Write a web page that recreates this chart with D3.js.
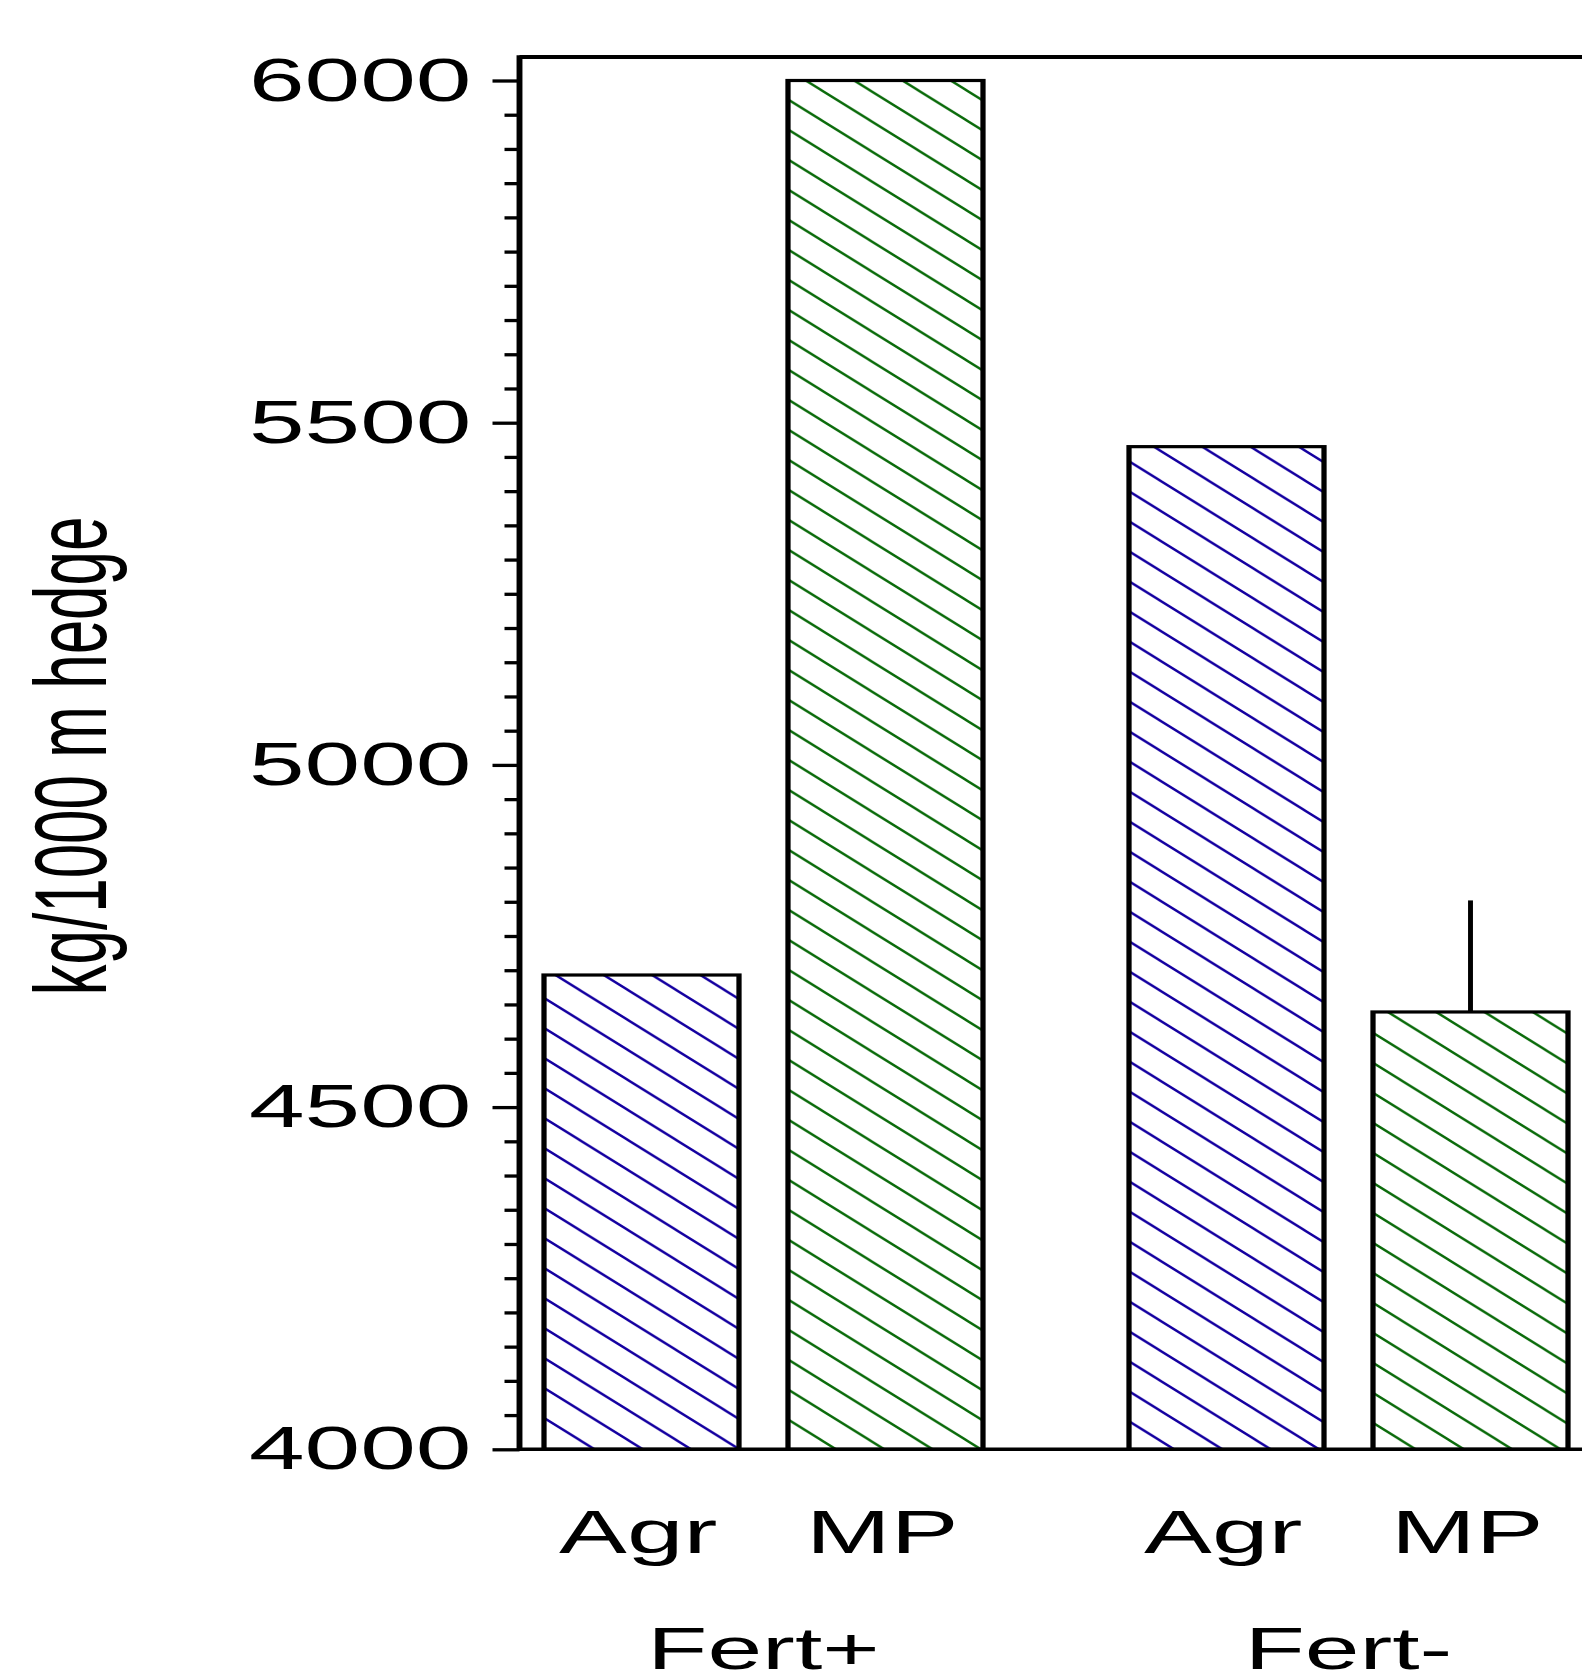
<!DOCTYPE html>
<html>
<head>
<meta charset="utf-8">
<script src="https://cdn.jsdelivr.net/npm/d3@7"></script>
<style>
  html, body { margin: 0; padding: 0; background: #fff; }
  svg { display: block; }
</style>
</head>
<body>
<svg id="chart"></svg>
<script>
// data
const groups = ["Fert+", "Fert-"];
const treatments = ["Agr", "MP"];
const agrValues = [4693, 5465];
const mpValues = [6000, 4639];
const mpErrors = [null, 163];
const yLabel = "kg/1000 m hedge";

const W = 1582, H = 1671;
// the original picture is stretched sideways, so draw in a squeezed space and scale x
const SX = 1.64;

const axisX = 519.5;
const frameTop = 57;
const font = '"Liberation Sans", Arial, sans-serif';

const svg = d3.select('#chart').attr('width', W).attr('height', H);
const g = svg.append('g').attr('transform', `scale(${SX},1)`);

const defs = svg.append('defs');
function hatch(id, color) {
  const w = 48.3 / SX, h = 30;
  defs.append('pattern')
    .attr('id', id)
    .attr('patternUnits', 'userSpaceOnUse')
    .attr('width', w)
    .attr('height', h)
    .append('path')
    .attr('d', `M${-w},${-h}L${2 * w},${2 * h}M${-w},0L${w},${2 * h}M0,${-h}L${2 * w},${h}`)
    .attr('stroke', color)
    .attr('stroke-width', 2)
    .attr('fill', 'none');
}
hatch('hatch-Agr', '#1400a0');
hatch('hatch-MP', '#0b6b0b');

const y = d3.scaleLinear().domain([4000, 6000]).range([1449.3, 80.5]);
const x0 = d3.scaleBand().domain(groups).range([544 / SX, 1568 / SX]).paddingInner(0.2496);
const x1 = d3.scaleBand().domain(treatments).range([0, x0.bandwidth()]).paddingInner(0.2008);

const rows = [];
groups.forEach((grp, i) => {
  rows.push({ grp, t: 'Agr', v: agrValues[i], err: null });
  rows.push({ grp, t: 'MP', v: mpValues[i], err: mpErrors[i] });
});

// error bars (upper only)
g.selectAll('line.err')
  .data(rows.filter(d => d.err != null))
  .enter().append('line')
  .attr('class', 'err')
  .attr('x1', d => x0(d.grp) + x1(d.t) + x1.bandwidth() / 2)
  .attr('x2', d => x0(d.grp) + x1(d.t) + x1.bandwidth() / 2)
  .attr('y1', d => y(d.v))
  .attr('y2', d => y(d.v + d.err))
  .attr('stroke', '#000')
  .attr('stroke-width', 3);

// bars
g.selectAll('rect.bar')
  .data(rows)
  .enter().append('rect')
  .attr('class', 'bar')
  .attr('x', d => x0(d.grp) + x1(d.t))
  .attr('y', d => y(d.v))
  .attr('width', x1.bandwidth())
  .attr('height', d => y(4000) - y(d.v))
  .attr('fill', d => `url(#hatch-${d.t})`)
  .attr('stroke', '#000')
  .attr('stroke-width', 3.2);

// minor ticks
const minor = d3.axisLeft(y)
  .tickValues(d3.range(4000, 6001, 50).filter(v => v % 500 !== 0))
  .tickSize(15 / SX)
  .tickFormat('');
g.append('g')
  .attr('transform', `translate(${axisX / SX},0)`)
  .call(minor)
  .call(a => a.select('.domain').remove())
  .call(a => a.selectAll('line').attr('stroke-width', 3.3));

// major ticks
const major = d3.axisLeft(y)
  .tickValues(d3.range(4000, 6001, 500))
  .tickSize(27 / SX)
  .tickPadding(21 / SX)
  .tickFormat(d3.format('d'));
g.append('g')
  .attr('transform', `translate(${axisX / SX},0)`)
  .call(major)
  .attr('font-size', 61)
  .attr('font-family', font)
  .call(a => a.select('.domain').remove())
  .call(a => a.selectAll('line').attr('stroke-width', 3.3))
  .call(a => a.selectAll('text').attr('fill', '#000'));

// frame: left axis, top and bottom lines
g.append('line')
  .attr('x1', axisX / SX).attr('x2', axisX / SX)
  .attr('y1', frameTop - 1.7).attr('y2', y(4000) + 1.7)
  .attr('stroke', '#000').attr('stroke-width', 3.6);
g.append('line')
  .attr('x1', axisX / SX).attr('x2', W / SX + 5)
  .attr('y1', frameTop).attr('y2', frameTop)
  .attr('stroke', '#000').attr('stroke-width', 3.8);
g.append('line')
  .attr('x1', axisX / SX).attr('x2', W / SX + 5)
  .attr('y1', y(4000)).attr('y2', y(4000))
  .attr('stroke', '#000').attr('stroke-width', 3.4);

// category labels
g.selectAll('text.cat')
  .data(rows)
  .enter().append('text')
  .attr('class', 'cat')
  .attr('x', d => x0(d.grp) + x1(d.t) + x1.bandwidth() / 2 - 2)
  .attr('y', 1553)
  .attr('text-anchor', 'middle')
  .attr('font-family', font)
  .attr('font-size', 62)
  .text(d => d.t);

g.selectAll('text.grp')
  .data(groups)
  .enter().append('text')
  .attr('class', 'grp')
  .attr('x', d => x0(d) + x0.bandwidth() / 2)
  .attr('y', 1669)
  .attr('text-anchor', 'middle')
  .attr('font-family', font)
  .attr('font-size', 60)
  .text(d => d);

// y label
g.append('text')
  .attr('transform', `translate(${106 / SX},756) rotate(-90)`)
  .attr('text-anchor', 'middle')
  .attr('font-family', font)
  .attr('font-size', 62)
  .text(yLabel);
</script>
</body>
</html>
